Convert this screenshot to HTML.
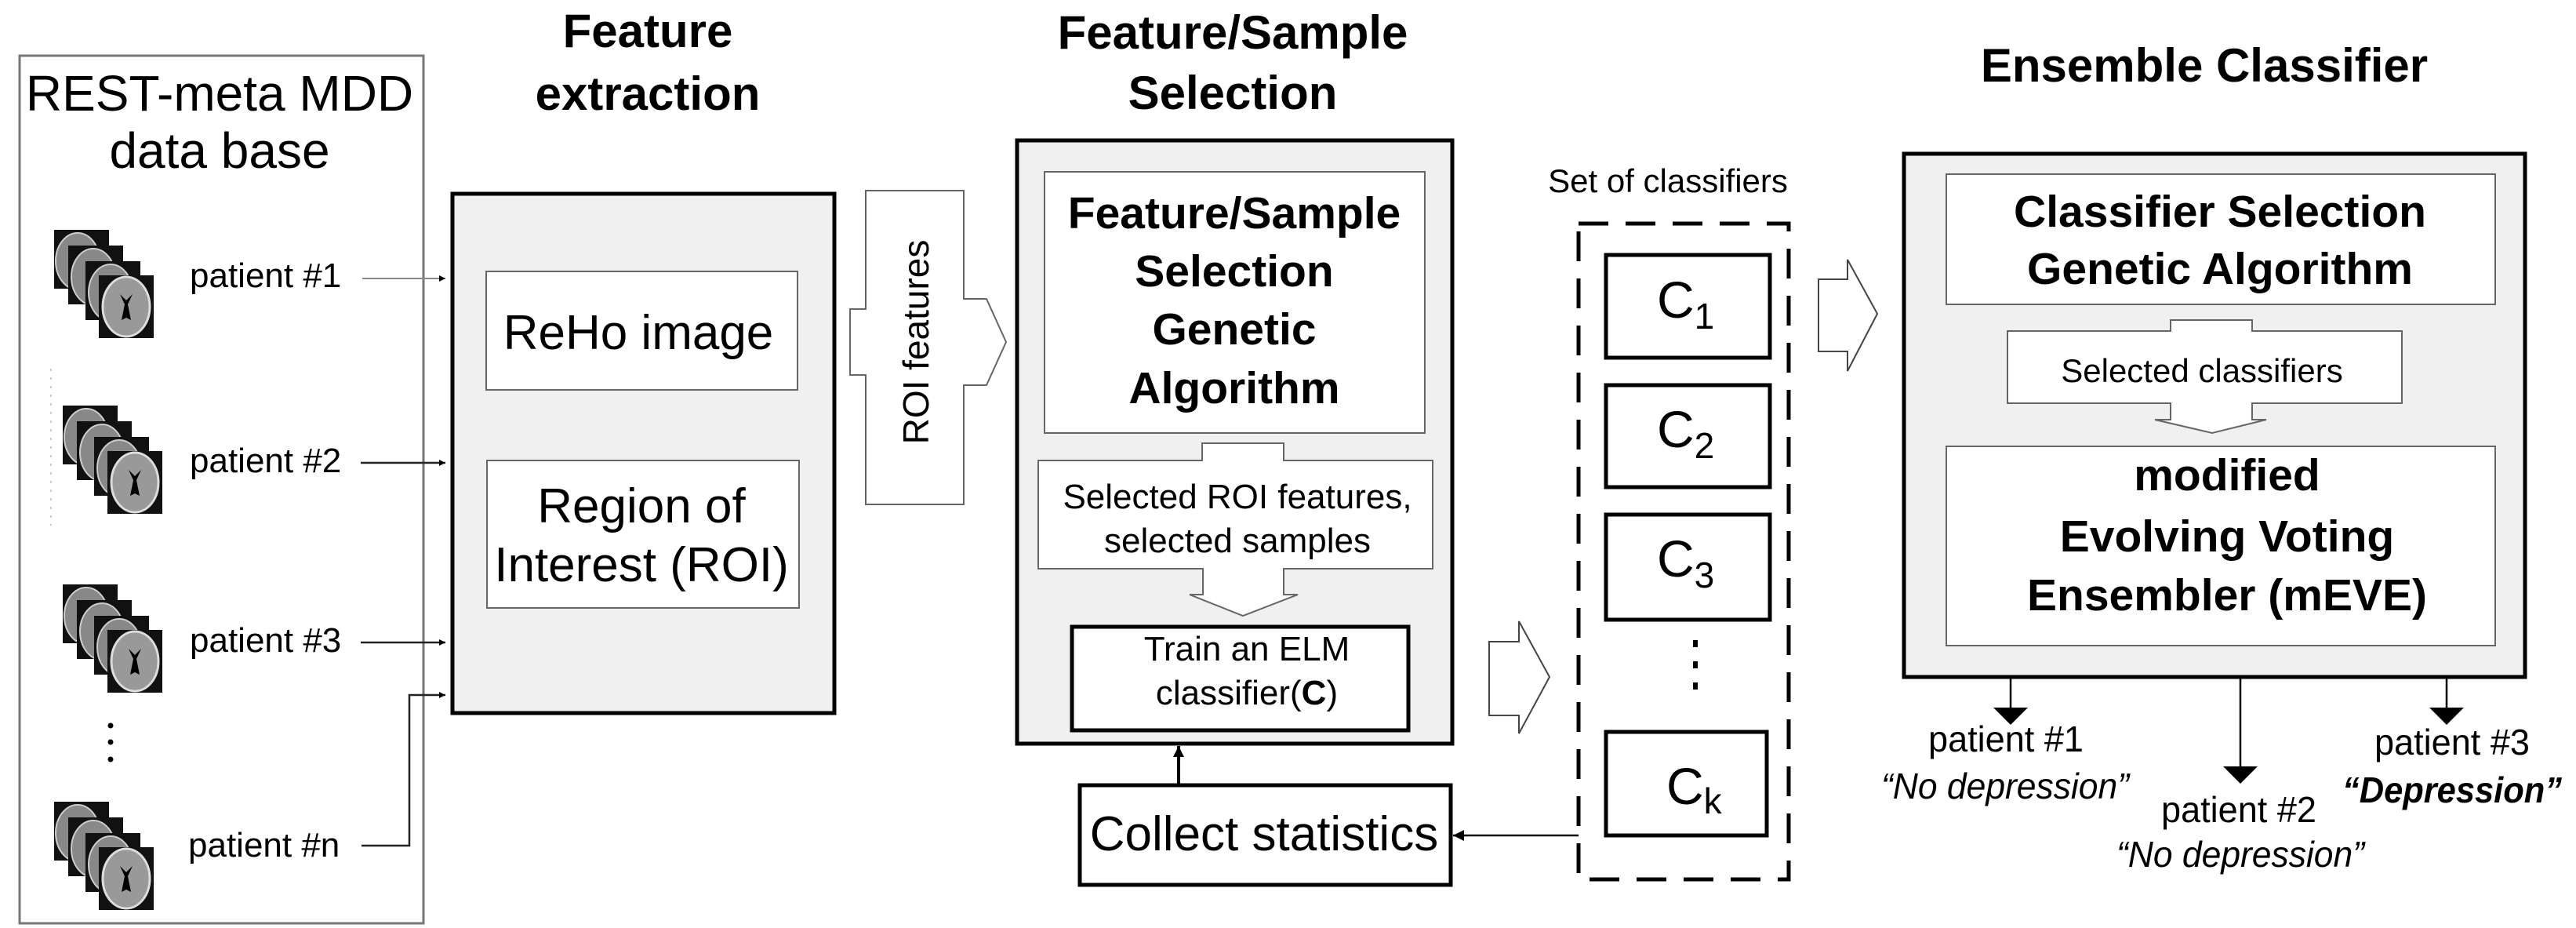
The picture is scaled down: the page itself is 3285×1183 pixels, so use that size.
<!DOCTYPE html>
<html><head><meta charset="utf-8"><style>
html,body{margin:0;padding:0;background:#fff;}
svg{display:block;}
text{font-family:"Liberation Sans",Arial,sans-serif;fill:#000;}
.b{font-weight:bold;}
</style></head><body>
<svg width="3285" height="1183" viewBox="0 0 3285 1183" xmlns="http://www.w3.org/2000/svg">
<defs>
<marker id="ah" viewBox="0 0 10 10" refX="10" refY="5" markerWidth="8" markerHeight="8" markerUnits="userSpaceOnUse" orient="auto"><path d="M0,0L10,5L0,10z" fill="#000"/></marker>
<marker id="ahb" viewBox="0 0 10 10" refX="10" refY="5" markerWidth="14" markerHeight="14" markerUnits="userSpaceOnUse" orient="auto"><path d="M0,0L10,5L0,10z" fill="#000"/></marker>
<g id="brain">
<rect x="0" y="0" width="70" height="75" fill="#111"/>
<ellipse cx="30" cy="40" rx="28" ry="36" fill="#888" stroke="#ccc" stroke-width="2"/>
<rect x="18" y="20" width="70" height="75" fill="#111"/>
<ellipse cx="50" cy="60" rx="28" ry="36" fill="#888" stroke="#ccc" stroke-width="2"/>
<rect x="40" y="40" width="70" height="75" fill="#111"/>
<ellipse cx="72" cy="80" rx="28" ry="36" fill="#888" stroke="#ccc" stroke-width="2"/>
<rect x="57" y="58" width="70" height="80" fill="#111"/>
<ellipse cx="92" cy="98" rx="30" ry="38" fill="#999" stroke="#ddd" stroke-width="3"/>
<path d="M84,82 L90,95 L86,115 L92,112 L98,115 L94,95 L100,82 L92,90z" fill="#000"/>
</g>
</defs>

<!-- Database -->
<rect x="25" y="71" width="515" height="1106" fill="#fff" stroke="#777" stroke-width="3"/>
<text x="280" y="141" font-size="64" text-anchor="middle">REST-meta MDD</text>
<text x="280" y="214" font-size="64" text-anchor="middle">data base</text>
<use href="#brain" x="69" y="293"/>
<use href="#brain" x="80" y="517"/>
<use href="#brain" x="80" y="745"/>
<use href="#brain" x="69" y="1022"/>
<line x1="65" y1="470" x2="65" y2="670" stroke="#ccc" stroke-width="2" stroke-dasharray="3,8"/>
<text x="242" y="366" font-size="44">patient #1</text>
<text x="242" y="602" font-size="44">patient #2</text>
<text x="242" y="831" font-size="44">patient #3</text>
<text x="240" y="1092" font-size="44">patient #n</text>
<circle cx="141" cy="925" r="3.5"/><circle cx="141" cy="946" r="3.5"/><circle cx="141" cy="968" r="3.5"/>
<line x1="462" y1="355" x2="568" y2="355" stroke="#888" stroke-width="2" marker-end="url(#ah)"/>
<line x1="460" y1="590" x2="568" y2="590" stroke="#222" stroke-width="2.5" marker-end="url(#ah)"/>
<line x1="460" y1="819" x2="568" y2="819" stroke="#222" stroke-width="2.5" marker-end="url(#ah)"/>
<polyline points="461,1078 522,1078 522,886 568,886" fill="none" stroke="#222" stroke-width="2.5" marker-end="url(#ah)"/>

<!-- Feature extraction -->
<text x="826" y="60" font-size="60" class="b" text-anchor="middle">Feature</text>
<text x="826" y="140" font-size="60" class="b" text-anchor="middle">extraction</text>
<rect x="577" y="247" width="487" height="662" fill="#f0f0f0" stroke="#000" stroke-width="5"/>
<rect x="620" y="346" width="397" height="151" fill="#fff" stroke="#666" stroke-width="2"/>
<text x="814" y="445" font-size="62" text-anchor="middle">ReHo image</text>
<rect x="621" y="587" width="398" height="188" fill="#fff" stroke="#666" stroke-width="2"/>
<text x="818" y="666" font-size="62" text-anchor="middle">Region of</text>
<text x="818" y="741" font-size="62" text-anchor="middle">Interest (ROI)</text>

<!-- ROI features arrow -->
<path d="M1104,243 L1229,243 L1229,381 L1258,381 L1283,436 L1258,491 L1229,491 L1229,643 L1104,643 L1104,478 L1084,478 L1084,394 L1104,394 Z" fill="#fff" stroke="#666" stroke-width="2"/>
<text x="0" y="0" font-size="46" text-anchor="middle" transform="translate(1184,436) rotate(-90)">ROI features</text>

<!-- Feature/Sample Selection -->
<text x="1572" y="62" font-size="60" class="b" text-anchor="middle">Feature/Sample</text>
<text x="1572" y="139" font-size="60" class="b" text-anchor="middle">Selection</text>
<rect x="1297" y="179" width="555" height="769" fill="#f0f0f0" stroke="#000" stroke-width="5"/>
<rect x="1332" y="219" width="485" height="333" fill="#fff" stroke="#666" stroke-width="2"/>
<text x="1574" y="291" font-size="57" class="b" text-anchor="middle">Feature/Sample</text>
<text x="1574" y="365" font-size="57" class="b" text-anchor="middle">Selection</text>
<text x="1574" y="439" font-size="57" class="b" text-anchor="middle">Genetic</text>
<text x="1574" y="514" font-size="57" class="b" text-anchor="middle">Algorithm</text>
<path d="M1324,587 L1533,587 L1533,565 L1637,565 L1637,587 L1827,587 L1827,725 L1637,725 L1637,758 L1655,758 L1585,785 L1517,758 L1534,758 L1534,725 L1324,725 Z" fill="#fff" stroke="#666" stroke-width="2"/>
<text x="1578" y="648" font-size="44" text-anchor="middle">Selected ROI features,</text>
<text x="1578" y="704" font-size="44" text-anchor="middle">selected samples</text>
<rect x="1367" y="799" width="429" height="132" fill="#fff" stroke="#000" stroke-width="5"/>
<text x="1590" y="842" font-size="44" text-anchor="middle">Train an ELM</text>
<text x="1590" y="898" font-size="44" text-anchor="middle">classifier(<tspan class="b">C</tspan>)</text>
<line x1="1503" y1="1000" x2="1503" y2="951" stroke="#000" stroke-width="4" marker-end="url(#ahb)"/>
<rect x="1377" y="1001" width="473" height="127" fill="#fff" stroke="#000" stroke-width="5"/>
<text x="1612" y="1084" font-size="62" text-anchor="middle">Collect statistics</text>
<line x1="2013" y1="1065" x2="1853" y2="1065" stroke="#000" stroke-width="2.5" marker-end="url(#ahb)"/>

<!-- block arrow to classifiers -->
<path d="M1899,818 L1937,818 L1937,792 L1976,863 L1937,935 L1937,912 L1899,912 Z" fill="#fff" stroke="#444" stroke-width="2"/>

<!-- set of classifiers -->
<text x="2127" y="245" font-size="42" text-anchor="middle">Set of classifiers</text>
<rect x="2013" y="285" width="268" height="836" fill="none" stroke="#000" stroke-width="5" stroke-dasharray="38,22"/>
<rect x="2048" y="325" width="209" height="131" fill="#fff" stroke="#000" stroke-width="5"/>
<text x="2113" y="405" font-size="66">C<tspan font-size="46" dy="14">1</tspan></text>
<rect x="2048" y="491" width="209" height="130" fill="#fff" stroke="#000" stroke-width="5"/>
<text x="2113" y="570" font-size="66">C<tspan font-size="46" dy="14">2</tspan></text>
<rect x="2048" y="656" width="209" height="134" fill="#fff" stroke="#000" stroke-width="5"/>
<text x="2113" y="735" font-size="66">C<tspan font-size="46" dy="14">3</tspan></text>
<rect x="2159" y="816" width="6" height="9"/><rect x="2159" y="843" width="6" height="9"/><rect x="2159" y="870" width="6" height="9"/>
<rect x="2048" y="933" width="205" height="132" fill="#fff" stroke="#000" stroke-width="5"/>
<text x="2125" y="1025" font-size="66">C<tspan font-size="46" dy="12">k</tspan></text>

<!-- block arrow to ensemble -->
<path d="M2319,356 L2356,356 L2356,331 L2394,400 L2356,473 L2356,448 L2319,448 Z" fill="#fff" stroke="#444" stroke-width="2"/>

<!-- Ensemble -->
<text x="2811" y="104" font-size="60" class="b" text-anchor="middle">Ensemble Classifier</text>
<rect x="2428" y="196" width="792" height="667" fill="#f0f0f0" stroke="#000" stroke-width="5"/>
<rect x="2482" y="222" width="700" height="166" fill="#fff" stroke="#666" stroke-width="2"/>
<text x="2831" y="289" font-size="57" class="b" text-anchor="middle">Classifier Selection</text>
<text x="2831" y="362" font-size="57" class="b" text-anchor="middle">Genetic Algorithm</text>
<path d="M2560,422 L2768,422 L2768,408 L2872,408 L2872,422 L3063,422 L3063,514 L2872,514 L2872,535 L2890,535 L2821,552 L2748,535 L2768,535 L2768,514 L2560,514 Z" fill="#fff" stroke="#666" stroke-width="2"/>
<text x="2808" y="487" font-size="42" text-anchor="middle">Selected classifiers</text>
<rect x="2482" y="569" width="700" height="254" fill="#fff" stroke="#666" stroke-width="2"/>
<text x="2840" y="625" font-size="57" class="b" text-anchor="middle">modified</text>
<text x="2840" y="703" font-size="57" class="b" text-anchor="middle">Evolving Voting</text>
<text x="2840" y="778" font-size="57" class="b" text-anchor="middle">Ensembler (mEVE)</text>

<line x1="2564" y1="863" x2="2564" y2="922" stroke="#000" stroke-width="2.5" marker-end="url(#ahb)"/>
<line x1="2857" y1="863" x2="2857" y2="997" stroke="#000" stroke-width="2.5" marker-end="url(#ahb)"/>
<line x1="3120" y1="863" x2="3120" y2="922" stroke="#000" stroke-width="2.5" marker-end="url(#ahb)"/>
<path d="M2542,902 L2586,902 L2564,924Z"/><path d="M2835,977 L2879,977 L2857,999Z"/><path d="M3098,902 L3142,902 L3120,924Z"/>
<text x="2558" y="958" font-size="46" text-anchor="middle" textLength="198" lengthAdjust="spacingAndGlyphs">patient #1</text>
<text x="2557" y="1018" font-size="46" font-style="italic" text-anchor="middle" textLength="316" lengthAdjust="spacingAndGlyphs">“No depression”</text>
<text x="2855" y="1048" font-size="46" text-anchor="middle" textLength="198" lengthAdjust="spacingAndGlyphs">patient #2</text>
<text x="2857" y="1105" font-size="46" font-style="italic" text-anchor="middle" textLength="316" lengthAdjust="spacingAndGlyphs">“No depression”</text>
<text x="3127" y="962" font-size="46" text-anchor="middle" textLength="198" lengthAdjust="spacingAndGlyphs">patient #3</text>
<text x="3127" y="1023" font-size="46" font-style="italic" class="b" text-anchor="middle" textLength="280" lengthAdjust="spacingAndGlyphs">“Depression”</text>
</svg>
</body></html>
